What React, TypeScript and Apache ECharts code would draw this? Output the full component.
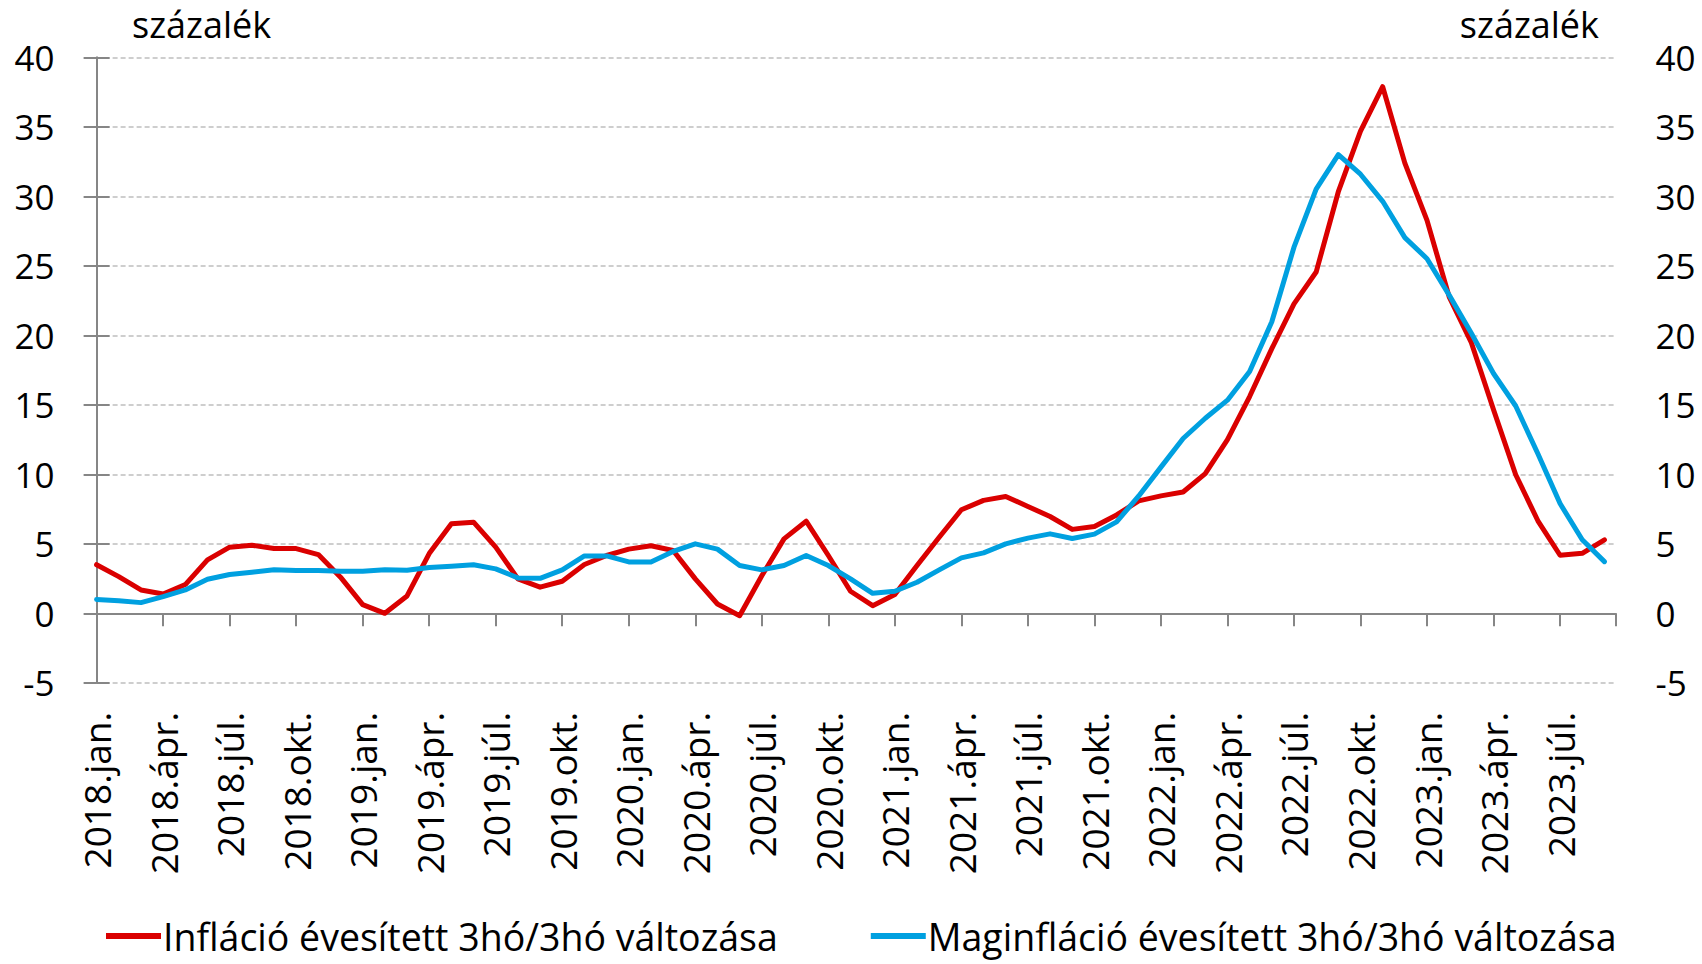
import React, { useEffect, useRef } from "react";
import * as echarts from "echarts";

const monthNames = ["jan.", "febr.", "márc.", "ápr.", "máj.", "jún.", "júl.", "aug.", "szept.", "okt.", "nov.", "dec."];
const years = [2018, 2019, 2020, 2021, 2022, 2023];
const categories: string[] = [];
years.forEach((y) => monthNames.forEach((m) => categories.push(`${y}.${m}`)));
categories.length = 69; // 2018.jan. – 2023.szept.

const seriesNames = ["Infláció évesített 3hó/3hó változása", "Maginfláció évesített 3hó/3hó változása"];

const inflation = [
  3.5, 2.64, 1.68, 1.39, 2.07, 3.85, 4.76, 4.9, 4.66, 4.66, 4.23, 2.6,
  0.63, 0.0, 1.25, 4.3, 6.44, 6.56, 4.76, 2.48, 1.88, 2.31, 3.51, 4.16,
  4.62, 4.86, 4.52, 2.48, 0.67, -0.17, 2.7, 5.36, 6.63, 4.16, 1.59, 0.55,
  1.35, 3.44, 5.48, 7.45, 8.13, 8.41, 7.69, 6.97, 6.04, 6.25, 7.08, 8.09,
  8.45, 8.73, 10.05, 12.5, 15.6, 19.05, 22.27, 24.56, 30.34, 34.7, 37.9, 32.4,
  28.28, 22.77, 19.47, 14.65, 9.97, 6.66, 4.18, 4.32, 5.29,
];

const coreInflation = [
  1.0, 0.91, 0.77, 1.2, 1.68, 2.45, 2.79, 2.96, 3.13, 3.08, 3.08, 3.03,
  3.03, 3.13, 3.1, 3.3, 3.39, 3.49, 3.2, 2.55, 2.52, 3.13, 4.13, 4.13,
  3.7, 3.7, 4.45, 5.0, 4.62, 3.44, 3.13, 3.44, 4.16, 3.44, 2.48, 1.44,
  1.59, 2.24, 3.13, 3.99, 4.35, 5.0, 5.41, 5.72, 5.38, 5.7, 6.58, 8.45,
  10.52, 12.58, 14.04, 15.34, 17.4, 20.98, 26.35, 30.53, 33.01, 31.6, 29.65, 27.04,
  25.52, 22.9, 20.15, 17.26, 14.92, 11.48, 7.9, 5.29, 3.72,
];

const yTicks = { min: -5, max: 40, interval: 5 };
const unitLabel = "százalék";

const FONT = "'Open Sans', Lato, sans-serif";
const FS_TEXT = 37;
const FS_LEGEND = 37.5;
const FS_Y = 35;
const FS_TITLE = 36;
const AXIS_GRAY = "#868686";
const RED = "#DA0000";
const BLUE = "#00A0E0";

export default function App() {
  const ref = useRef<HTMLDivElement>(null);

  useEffect(() => {
    document.body.style.margin = "0";
    if (!ref.current) return;
    const chart = echarts.init(ref.current, undefined, { renderer: "svg" });

    const xMax = categories.length - 0.5;
    const labelFmt = (v: number) => {
      if (Math.abs(v - Math.round(v)) > 1e-6) return "";
      const i = Math.round(v);
      return i % 3 === 0 && categories[i] ? categories[i] : "";
    };

    const yAxisBase = {
      type: "value" as const,
      min: yTicks.min,
      max: yTicks.max,
      interval: yTicks.interval,
      axisLine: { show: true, lineStyle: { color: AXIS_GRAY, width: 2 } },
      axisTick: { show: true, length: 13, lineStyle: { color: AXIS_GRAY, width: 2 } },
      axisLabel: { color: "#000", fontSize: FS_Y, fontFamily: FONT, margin: 42 },
    };

    chart.setOption({
      animation: false,
      backgroundColor: "#fff",
      grid: { left: 96.6, right: 86.5, top: 57.5, bottom: 281.2, containLabel: false, outerBoundsMode: "none" },
      legend: {
        left: 106,
        top: 916,
        padding: 0,
        icon: "rect",
        itemWidth: 55,
        itemHeight: 6,
        itemGap: 93,
        textStyle: {
          color: "#000",
          fontSize: FS_LEGEND,
          lineHeight: 40,
          fontFamily: FONT,
          padding: [0, 0, 0, -3],
        },
        data: seriesNames,
      },
      graphic: [
        { type: "text", left: 132, top: 6, style: { text: unitLabel, font: `${FS_TITLE}px ${FONT}`, fill: "#000" } },
        { type: "text", right: 103, top: 6, style: { text: unitLabel, font: `${FS_TITLE}px ${FONT}`, fill: "#000" } },
      ],
      xAxis: [
        {
          type: "value",
          min: 0,
          max: xMax,
          interval: 3,
          axisLine: { show: true, onZero: true, lineStyle: { color: AXIS_GRAY, width: 2 } },
          axisTick: { show: true, length: 13, lineStyle: { color: AXIS_GRAY, width: 2 } },
          axisLabel: { show: false },
          splitLine: { show: false },
        },
        {
          type: "value",
          position: "bottom",
          min: 0,
          max: xMax,
          interval: 3,
          axisLine: { show: false, onZero: false },
          axisTick: { show: false },
          axisLabel: {
            show: true,
            rotate: 90,
            margin: 29,
            color: "#000",
            fontSize: FS_TEXT,
            fontFamily: FONT,
            formatter: labelFmt,
            showMinLabel: true,
            showMaxLabel: true,
          },
          splitLine: { show: false },
        },
      ],
      yAxis: [
        {
          ...yAxisBase,
          position: "left",
          splitLine: { show: true, lineStyle: { color: "#BFBFBF", width: 1.5, type: [5, 3] } },
        },
        {
          ...yAxisBase,
          position: "right",
          splitLine: { show: false },
          axisLabel: { ...yAxisBase.axisLabel, margin: 40 },
        },
      ],
      series: [
        {
          name: seriesNames[0],
          type: "line",
          xAxisIndex: 0,
          yAxisIndex: 0,
          symbol: "none",
          lineStyle: { color: RED, width: 5, join: "round", cap: "round" },
          itemStyle: { color: RED },
          data: inflation.map((v, i) => [i, v]),
          z: 3,
        },
        {
          name: seriesNames[1],
          type: "line",
          xAxisIndex: 0,
          yAxisIndex: 0,
          symbol: "none",
          lineStyle: { color: BLUE, width: 5, join: "round", cap: "round" },
          itemStyle: { color: BLUE },
          data: coreInflation.map((v, i) => [i, v]),
          z: 4,
        },
      ],
    });

    return () => chart.dispose();
  }, []);

  return <div ref={ref} style={{ position: "absolute", left: 0, top: 0, width: 1702, height: 964 }} />;
}
